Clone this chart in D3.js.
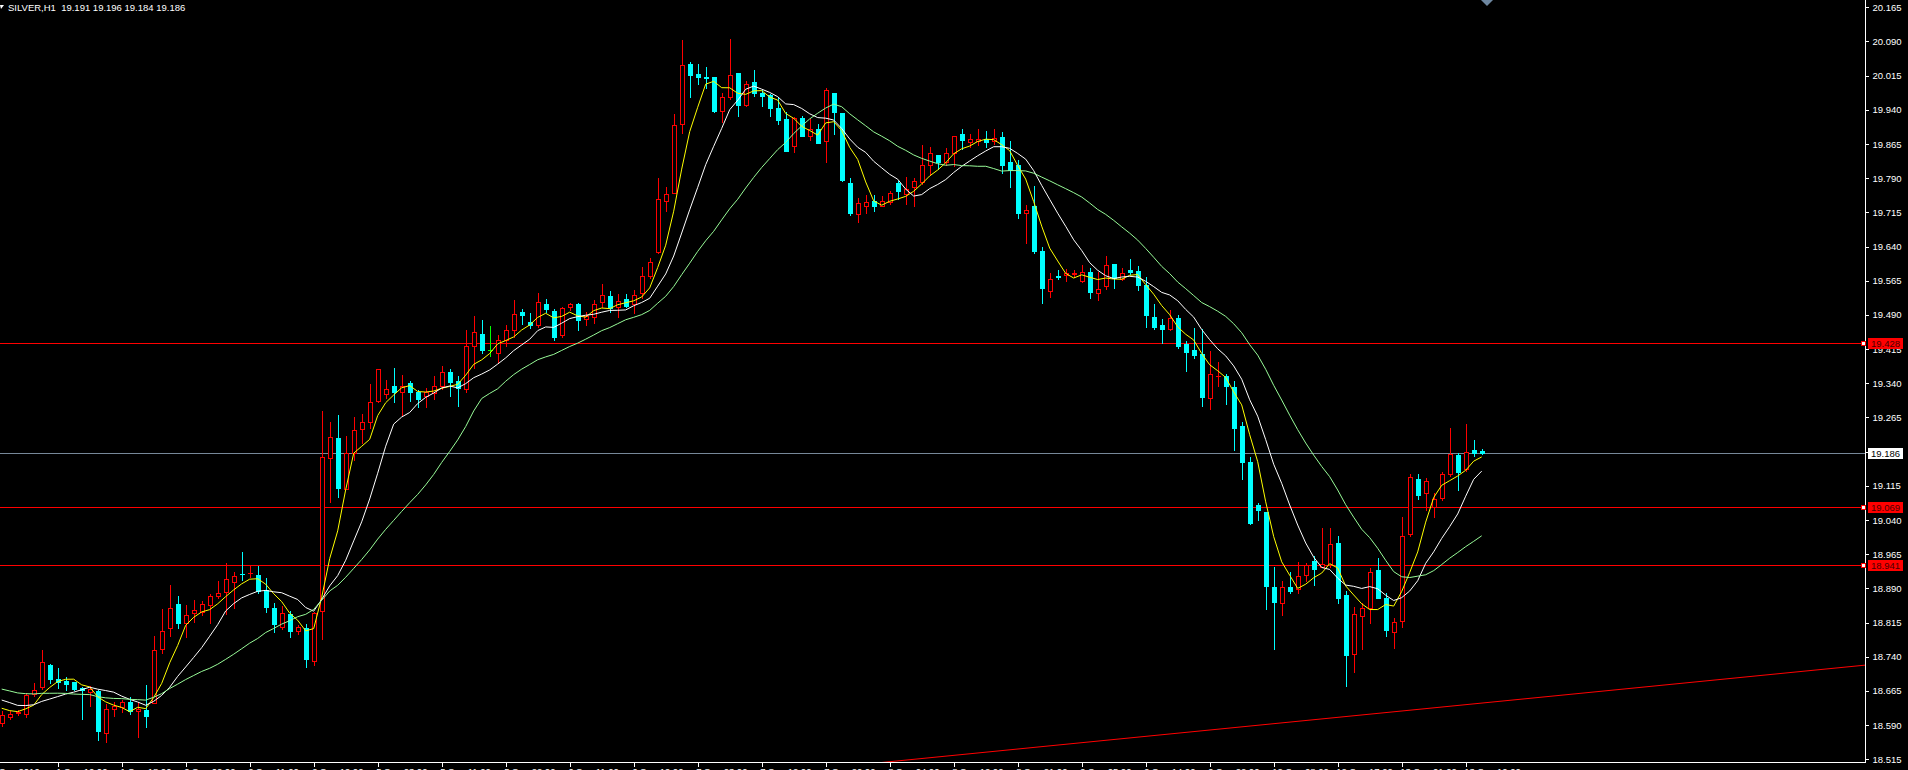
<!DOCTYPE html>
<html><head><meta charset="utf-8">
<script src="https://cdn.jsdelivr.net/npm/d3@7"></script>
<style>
html,body{margin:0;padding:0;background:#000;overflow:hidden;}
svg{display:block;}
text{font-family:"Liberation Sans",Arial,sans-serif;}
</style></head><body>
<script>
// ---------------- data (SILVER, H1) ----------------
const symbolTitle = "SILVER,H1  19.191 19.196 19.184 19.186";
const opens = [18.594,18.607,18.616,18.614,18.658,18.673,18.723,18.691,18.687,18.684,18.672,18.663,18.665,18.572,18.626,18.629,18.641,18.622,18.623,18.639,
18.758,18.802,18.856,18.813,18.835,18.839,18.854,18.873,18.881,18.905,18.922,18.923,18.919,18.886,18.848,18.806,18.833,18.797,18.802,18.731,
18.841,19.175,19.219,19.109,19.188,19.239,19.256,19.302,19.317,19.334,19.320,19.340,19.320,19.312,19.318,19.333,19.364,19.345,19.327,19.422,
19.448,19.412,19.407,19.434,19.456,19.496,19.474,19.469,19.513,19.499,19.445,19.507,19.513,19.480,19.485,19.518,19.532,19.508,19.524,19.513,
19.538,19.576,19.629,19.741,19.757,19.908,20.041,20.019,20.013,20.012,19.938,19.969,20.020,19.951,20.000,19.978,19.973,19.943,19.920,19.861,
19.923,19.883,19.899,19.872,19.976,19.932,19.779,19.711,19.730,19.740,19.729,19.737,19.779,19.755,19.771,19.782,19.819,19.841,19.826,19.846,
19.887,19.870,19.872,19.875,19.872,19.880,19.826,19.819,19.713,19.728,19.631,19.543,19.576,19.578,19.580,19.565,19.585,19.539,19.554,19.602,
19.568,19.589,19.586,19.556,19.486,19.467,19.459,19.484,19.426,19.412,19.404,19.307,19.356,19.356,19.331,19.246,19.167,19.073,19.058,18.894,
18.859,18.892,18.888,18.919,18.951,18.938,18.941,18.990,18.876,18.745,18.830,18.848,18.930,18.868,18.795,18.819,19.009,19.129,19.099,19.069,
19.088,19.140,19.183,19.151,19.194,19.191];
const highs = [18.620,18.622,18.623,18.660,18.682,18.755,18.724,18.715,18.696,18.684,18.674,18.676,18.667,18.636,18.641,18.645,18.652,18.641,18.678,18.786,
18.845,18.897,18.873,18.853,18.865,18.862,18.878,18.906,18.946,18.927,18.969,18.939,18.939,18.912,18.857,18.851,18.840,18.810,18.812,18.839,
19.280,19.256,19.271,19.224,19.267,19.273,19.339,19.371,19.347,19.373,19.358,19.345,19.325,19.329,19.356,19.378,19.371,19.356,19.457,19.488,
19.479,19.466,19.446,19.468,19.523,19.503,19.495,19.539,19.526,19.502,19.508,19.516,19.516,19.497,19.523,19.558,19.543,19.536,19.536,19.545,
19.595,19.614,19.790,19.770,19.931,20.093,20.046,20.041,20.033,20.012,19.976,20.095,20.020,20.003,20.027,19.984,19.974,19.969,19.935,19.925,
19.927,19.920,19.909,19.989,19.976,19.932,19.790,19.746,19.753,19.753,19.752,19.763,19.784,19.792,19.790,19.863,19.858,19.841,19.856,19.883,
19.898,19.887,19.899,19.894,19.898,19.892,19.872,19.830,19.731,19.773,19.640,19.583,19.589,19.590,19.589,19.600,19.592,19.585,19.620,19.602,
19.592,19.613,19.598,19.574,19.514,19.481,19.501,19.490,19.433,19.462,19.460,19.411,19.386,19.360,19.345,19.256,19.178,19.077,19.058,18.936,
18.906,18.927,18.949,18.945,18.960,19.023,19.023,19.005,18.885,18.849,18.859,18.934,18.957,18.879,18.824,19.046,19.141,19.141,19.132,19.100,
19.146,19.243,19.186,19.251,19.216,19.196];
const lows = [18.587,18.603,18.612,18.607,18.654,18.669,18.682,18.671,18.667,18.666,18.603,18.633,18.557,18.554,18.610,18.618,18.614,18.565,18.585,18.638,
18.749,18.786,18.802,18.784,18.817,18.832,18.813,18.868,18.834,18.848,18.908,18.916,18.879,18.839,18.795,18.800,18.784,18.790,18.717,18.722,
18.780,19.080,19.091,19.107,19.172,19.208,19.241,19.298,19.307,19.298,19.271,19.302,19.287,19.287,19.305,19.327,19.312,19.290,19.322,19.373,
19.407,19.399,19.384,19.422,19.442,19.470,19.461,19.464,19.497,19.434,19.442,19.501,19.456,19.469,19.473,19.507,19.497,19.486,19.507,19.494,
19.527,19.570,19.625,19.717,19.757,19.889,19.969,19.996,19.987,19.935,19.913,19.964,19.927,19.949,19.971,19.949,19.927,19.908,19.850,19.848,
19.883,19.874,19.868,19.826,19.887,19.784,19.709,19.693,19.713,19.717,19.728,19.734,19.744,19.734,19.728,19.777,19.797,19.810,19.819,19.817,
19.853,19.859,19.863,19.859,19.865,19.802,19.771,19.702,19.647,19.625,19.517,19.530,19.569,19.565,19.573,19.563,19.527,19.523,19.547,19.550,
19.567,19.580,19.545,19.463,19.459,19.429,19.456,19.418,19.366,19.395,19.290,19.284,19.334,19.295,19.194,19.130,19.031,19.040,18.844,18.757,
18.832,18.879,18.879,18.907,18.898,18.936,18.936,18.859,18.676,18.707,18.757,18.813,18.870,18.786,18.760,18.805,19.005,19.086,19.061,19.047,
19.083,19.137,19.106,19.148,19.181,19.184];
const closes = [18.612,18.614,18.619,18.656,18.668,18.728,18.692,18.684,18.681,18.669,18.666,18.669,18.576,18.625,18.633,18.641,18.622,18.625,18.610,18.755,
18.796,18.848,18.815,18.831,18.843,18.855,18.873,18.879,18.910,18.917,18.921,18.924,18.884,18.850,18.812,18.835,18.797,18.806,18.734,18.837,
19.178,19.222,19.110,19.186,19.237,19.254,19.298,19.371,19.327,19.322,19.333,19.322,19.306,19.321,19.333,19.364,19.342,19.329,19.421,19.452,
19.413,19.412,19.435,19.457,19.492,19.489,19.467,19.518,19.502,19.442,19.505,19.513,19.478,19.488,19.513,19.534,19.506,19.521,19.510,19.534,
19.576,19.606,19.744,19.755,19.907,20.038,20.017,20.011,20.009,19.938,19.968,20.016,19.951,19.997,19.976,19.971,19.945,19.918,19.850,19.923,
19.883,19.899,19.868,19.984,19.936,19.786,19.714,19.736,19.737,19.728,19.739,19.757,19.761,19.766,19.784,19.819,19.845,19.826,19.845,19.883,
19.874,19.875,19.876,19.870,19.878,19.819,19.809,19.714,19.720,19.631,19.550,19.568,19.573,19.583,19.581,19.585,19.541,19.548,19.600,19.570,
19.583,19.584,19.556,19.490,19.464,19.459,19.484,19.422,19.409,19.401,19.311,19.360,19.357,19.335,19.243,19.168,19.033,19.061,18.895,18.861,
18.892,18.885,18.917,18.941,18.932,18.943,18.988,18.870,18.744,18.833,18.846,18.925,18.870,18.799,18.816,19.006,19.134,19.095,19.126,19.086,
19.140,19.185,19.146,19.189,19.186,19.186];
// closes of the 20 hours before the first visible bar (estimated from the MA levels at the left edge)
const priorCloses = [18.70,18.71,18.69,18.68,18.70,18.69,18.68,18.69,18.70,18.68,18.68,
                     18.67,18.68,18.66,18.65,18.655,18.64,18.63,18.625,18.628];
const maPeriods = [5, 10, 21];
const priceTicks = [20.165,20.090,20.015,19.940,19.865,19.790,19.715,19.640,19.565,19.490,19.415,19.340,
                    19.265,19.190,19.115,19.040,18.965,18.890,18.815,18.740,18.665,18.590,18.515];
const levelLines = [19.428, 19.069, 18.941];
const bidPrice = 19.186;
const trendPoints = [{bar:110, price:18.508},{bar:232, price:18.720}];
const timeTickBars = [7,15,23,31,39,47,55,63,71,79,87,95,103,111,119,127,135,143,151,159,167,175,183];
const timeTickLabels = ["1 Sep 10:00","1 Sep 18:00","2 Sep 02:00","2 Sep 11:00","2 Sep 19:00","5 Sep 03:00","5 Sep 11:00",
  "5 Sep 22:00","6 Sep 11:00","6 Sep 19:00","7 Sep 03:00","7 Sep 12:00","7 Sep 20:00","8 Sep 04:00","8 Sep 12:00",
  "8 Sep 21:00","9 Sep 05:00","9 Sep 14:00","9 Sep 22:00","12 Sep 08:00","12 Sep 17:00","13 Sep 01:00","13 Sep 10:00"];
const firstDateLabel = "1 Sep 2016";

// ---------------- drawing ----------------
const W = 1908, H = 770;
const plotR = 1865, plotB = 762;
const svg = d3.select("body").append("svg").attr("width", W).attr("height", H);
svg.append("rect").attr("width", W).attr("height", H).attr("fill", "#000");

const x = d3.scaleLinear().domain([0, 185]).range([1.7, 1481.7]);
const y = d3.scaleLinear().domain([18.515, 20.165]).range([759.3, 7.3]);

const defs = svg.append("defs");
defs.append("clipPath").attr("id", "plot").append("rect").attr("x", 0).attr("y", 0).attr("width", plotR).attr("height", plotB);
const plot = svg.append("g").attr("clip-path", "url(#plot)");

const COL_UP = "#ff0000", COL_DN = "#00ffff", COL_DOJI = "#00ff00";

// horizontal level lines
levelLines.forEach(p => {
  const yy = Math.round(y(p)) + 0.5;
  plot.append("line").attr("x1", 0).attr("x2", 1862).attr("y1", yy).attr("y2", yy)
    .attr("stroke", "#ff0000").attr("stroke-width", 1).attr("shape-rendering", "crispEdges");
});
{
  const yy = Math.round(y(bidPrice)) + 0.5;
  plot.append("line").attr("x1", 0).attr("x2", plotR).attr("y1", yy).attr("y2", yy)
    .attr("stroke", "#778899").attr("stroke-width", 1).attr("shape-rendering", "crispEdges");
}
// trend line (ray to the right edge)
{
  const a = trendPoints[0], b = trendPoints[1];
  const slope = (b.price - a.price) / (b.bar - a.bar);
  const endBar = x.invert(plotR + 2);
  plot.append("line").attr("x1", x(a.bar)).attr("y1", y(a.price))
    .attr("x2", x(endBar)).attr("y2", y(a.price + slope * (endBar - a.bar)))
    .attr("stroke", "#ff0000").attr("stroke-width", 1);
}

// candles
const bars = d3.range(closes.length).map(i => ({i, o: opens[i], h: highs[i], l: lows[i], c: closes[i]}));
const cg = plot.append("g").attr("shape-rendering", "crispEdges");
bars.forEach(d => {
  const px = Math.round(x(d.i));
  const up = d.c > d.o, doji = d.c === d.o;
  const col = doji ? COL_DOJI : (up ? COL_UP : COL_DN);
  const yh = Math.round(y(d.h)), yl = Math.round(y(d.l));
  cg.append("line").attr("x1", px + 0.5).attr("x2", px + 0.5).attr("y1", yh).attr("y2", yl + 1)
    .attr("stroke", col).attr("stroke-width", 1);
  const yt = Math.round(y(Math.max(d.o, d.c))), yb = Math.round(y(Math.min(d.o, d.c)));
  if (doji || yb - yt < 1) {
    cg.append("line").attr("x1", px - 2).attr("x2", px + 3).attr("y1", yt + 0.5).attr("y2", yt + 0.5)
      .attr("stroke", col).attr("stroke-width", 1);
  } else if (up) {
    cg.append("rect").attr("x", px - 1.5).attr("y", yt + 0.5).attr("width", 4).attr("height", yb - yt)
      .attr("fill", "#000").attr("stroke", col).attr("stroke-width", 1);
  } else {
    cg.append("rect").attr("x", px - 2).attr("y", yt).attr("width", 5).attr("height", yb - yt + 1)
      .attr("fill", col);
  }
});

// moving averages
const allCloses = priorCloses.concat(closes);
const off = priorCloses.length;
const maColors = ["#ffff00", "#ffffff", "#98fb98"];
maPeriods.forEach((n, k) => {
  const pts = bars.map(d => {
    const j = d.i + off;
    const win = allCloses.slice(Math.max(0, j - n + 1), j + 1);
    return {i: d.i, v: d3.mean(win)};
  });
  plot.append("path").datum(pts)
    .attr("d", d3.line().x(p => x(p.i)).y(p => y(p.v)))
    .attr("fill", "none").attr("stroke", maColors[k]).attr("stroke-width", 1);
});

// axes
svg.append("line").attr("x1", plotR + 0.5).attr("x2", plotR + 0.5).attr("y1", 0).attr("y2", plotB + 1)
  .attr("stroke", "#fff").attr("shape-rendering", "crispEdges");
svg.append("line").attr("x1", 0).attr("x2", plotR + 1).attr("y1", plotB + 0.5).attr("y2", plotB + 0.5)
  .attr("stroke", "#fff").attr("shape-rendering", "crispEdges");

const yAxis = d3.axisRight(y).tickValues(priceTicks).tickSize(3).tickPadding(4).tickFormat(d3.format(".3f"));
const ya = svg.append("g").attr("transform", `translate(${plotR + 0.5},0)`).call(yAxis);
ya.select(".domain").remove();
ya.selectAll("line").attr("stroke", "#fff").attr("shape-rendering", "crispEdges");
ya.selectAll("text").attr("fill", "#fff").attr("font-size", "9.5px")
  .attr("font-family", "'Liberation Sans',Arial,sans-serif");

const xAxis = d3.axisBottom(x).tickValues(timeTickBars).tickSize(4).tickPadding(2)
  .tickFormat((d, i) => timeTickLabels[i]);
const xa = svg.append("g").attr("transform", `translate(0,${plotB + 0.5})`).call(xAxis);
xa.select(".domain").remove();
xa.selectAll("line").attr("stroke", "#fff").attr("shape-rendering", "crispEdges");
xa.selectAll("text").attr("fill", "#fff").attr("font-size", "9.5px").attr("text-anchor", "start").attr("dx", -2)
  .attr("font-family", "'Liberation Sans',Arial,sans-serif");
svg.append("text").attr("x", -9).attr("y", plotB + 6).attr("dy", "0.71em").attr("fill", "#fff")
  .attr("font-size", "9.5px").text(firstDateLabel);

// price tags on the right
levelLines.forEach(p => {
  const yy = Math.round(y(p));
  svg.append("rect").attr("x", 1861).attr("y", yy - 2).attr("width", 4).attr("height", 4)
    .attr("fill", "#fff").attr("stroke", "#ff0000").attr("stroke-width", 1).attr("shape-rendering", "crispEdges");
  svg.append("rect").attr("x", 1868).attr("y", yy - 5).attr("width", 35).attr("height", 11).attr("fill", "#ff0000");
  svg.append("text").attr("x", 1871).attr("y", yy + 4).attr("fill", "#4a0000").attr("font-size", "9.5px")
    .text(d3.format(".3f")(p));
});
{
  const yy = Math.round(y(bidPrice));
  svg.append("rect").attr("x", 1868).attr("y", yy - 5).attr("width", 35).attr("height", 11).attr("fill", "#fff");
  svg.append("text").attr("x", 1871).attr("y", yy + 4).attr("fill", "#000").attr("font-size", "9.5px")
    .text(d3.format(".3f")(bidPrice));
}

// title and markers
svg.append("path").attr("d", "M0,5 L4,5 L1,9 Z").attr("fill", "#fff");
svg.append("text").attr("x", 8).attr("y", 11).attr("fill", "#fff").attr("font-size", "9.5px")
  .attr("xml:space", "preserve").style("white-space", "pre").text(symbolTitle);
svg.append("path").attr("d", "M1481,0 L1493,0 L1487,6 Z").attr("fill", "#6e87a0");
</script>
</body></html>
